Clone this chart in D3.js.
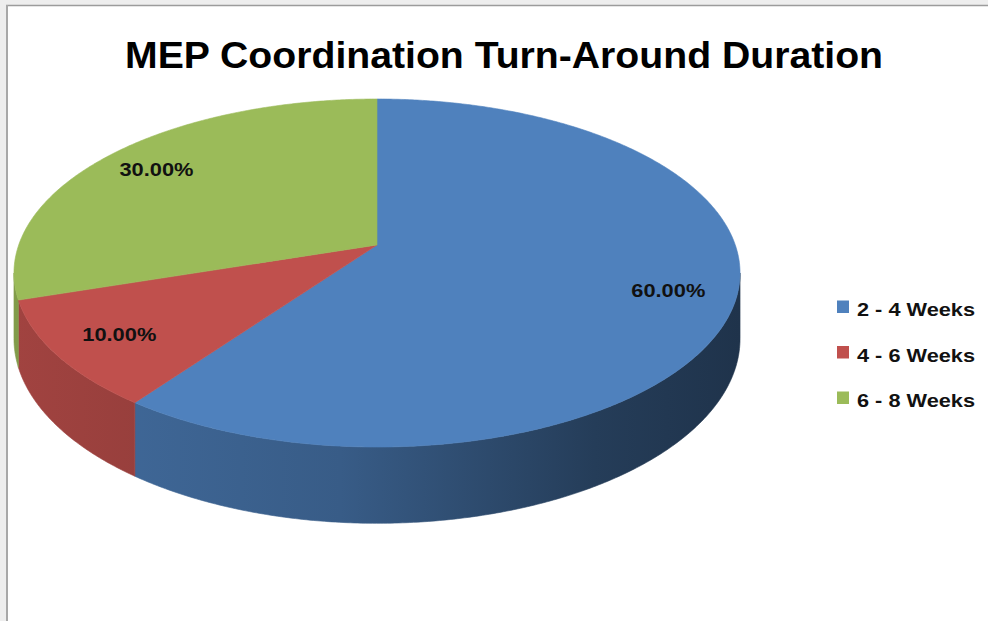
<!DOCTYPE html>
<html>
<head>
<meta charset="utf-8">
<script src="https://cdn.jsdelivr.net/npm/d3@7"></script>
<style>
  html, body { margin: 0; padding: 0; background: #eeeeee; }
  svg { display: block; }
</style>
</head>
<body>
<svg id="chart" width="988" height="621"></svg>
<script>
// Chart data
const title = "MEP Coordination Turn-Around Duration";
const categories = ["2 - 4 Weeks", "4 - 6 Weeks", "6 - 8 Weeks"];
const shares = [60, 10, 30];
const valueLabels = ["60.00%", "10.00%", "30.00%"];
const palette = ["#4f81bd", "#c0504d", "#9bbb59"];

const W = 988, H = 621;
const svg = d3.select("#chart");

// Page frame
svg.append("rect").attr("x", 0).attr("y", 0).attr("width", W).attr("height", H).attr("fill", "#eeeeee");
svg.append("rect").attr("x", 7).attr("y", 6).attr("width", W - 7).attr("height", H - 6).attr("fill", "#ffffff");
svg.append("line").attr("x1", 6).attr("x2", W).attr("y1", 5.5).attr("y2", 5.5).attr("stroke", "#9c9c9c").attr("stroke-width", 1.5);
svg.append("line").attr("x1", 7).attr("x2", 7).attr("y1", 5).attr("y2", H).attr("stroke", "#a8a8a8").attr("stroke-width", 2);

// Title
svg.append("text")
  .attr("x", 504).attr("y", 68)
  .attr("text-anchor", "middle")
  .attr("font-family", "'Liberation Sans Narrow', 'Liberation Sans', Arial, sans-serif")
  .attr("font-weight", "bold")
  .attr("font-size", 37)
  .attr("textLength", 758)
  .attr("lengthAdjust", "spacingAndGlyphs")
  .attr("fill", "#000")
  .text(title);

// Perspective projection of a tilted disc
const cx = 377, cy = 245;       // projected pie centre
const A = 358.3, B = 169.5;     // horizontal / depth radii before perspective
const k = 0.161;                // perspective strength
const depth = 64;               // disc thickness
function proj(theta, r, drop) {
  const x = r * Math.sin(theta), y = -r * Math.cos(theta);
  const w = 1 - k * y;
  return [cx + A * x / w, cy + B * y / w + (drop ? depth / w : 0)];
}

const pie = d3.pie().sort(null).value(d => d)(shares);
const color = d3.scaleOrdinal().domain(categories).range(palette);

const defs = svg.append("defs");
categories.forEach((c, i) => {
  const base = d3.color(color(c));
  const g = defs.append("linearGradient")
    .attr("id", "wall" + i)
    .attr("gradientUnits", "userSpaceOnUse")
    .attr("x1", 14).attr("x2", 740).attr("y1", 0).attr("y2", 0);
  [[0, 0.5], [0.45, 0.95], [0.8, 2.1], [1, 2.6]].forEach(([t, dk]) => {
    g.append("stop").attr("offset", t).attr("stop-color", base.darker(dk).formatHex());
  });
});

const step = Math.PI / 360;
function arcPts(a0, a1, drop) {
  const pts = [];
  const n = Math.max(2, Math.ceil((a1 - a0) / step));
  for (let j = 0; j <= n; j++) pts.push(proj(a0 + (a1 - a0) * j / n, 1, drop));
  return pts;
}

// Visible front wall range (silhouette where depth coordinate equals k)
const vis0 = Math.acos(-k), vis1 = 2 * Math.PI - Math.acos(-k);

const walls = svg.append("g");
pie.forEach((p, i) => {
  const a0 = Math.max(p.startAngle, vis0), a1 = Math.min(p.endAngle, vis1);
  if (a1 <= a0) return;
  const top = arcPts(a0, a1, false);
  const bot = arcPts(a0, a1, true).reverse();
  walls.append("path")
    .attr("d", d3.line()(top.concat(bot)) + "Z")
    .attr("fill", `url(#wall${i})`)
    .attr("stroke", `url(#wall${i})`)
    .attr("stroke-width", 0.6);
});

const tops = svg.append("g");
pie.forEach((p, i) => {
  const pts = [proj(0, 0, false)].concat(arcPts(p.startAngle, p.endAngle, false));
  tops.append("path")
    .attr("d", d3.line()(pts) + "Z")
    .attr("fill", color(categories[i]))
    .attr("stroke", color(categories[i]))
    .attr("stroke-width", 0.6);
});

// Value labels
pie.forEach((p, i) => {
  const mid = (p.startAngle + p.endAngle) / 2;
  const [x, y] = proj(mid, 0.82, false);
  svg.append("text")
    .attr("x", x).attr("y", y + 7)
    .attr("text-anchor", "middle")
    .attr("font-family", "'Liberation Sans', Arial, sans-serif")
    .attr("font-weight", "bold")
    .attr("font-size", 18)
    .attr("textLength", 74)
    .attr("lengthAdjust", "spacingAndGlyphs")
    .attr("fill", "#111")
    .text(valueLabels[i]);
});

// Legend
const legendY = d3.scalePoint().domain(categories).range([307, 398]);
const legend = svg.append("g");
categories.forEach(c => {
  const y = legendY(c);
  legend.append("rect")
    .attr("x", 837).attr("y", y - 6.5).attr("width", 12).attr("height", 12.5)
    .attr("fill", color(c));
  legend.append("text")
    .attr("x", 857).attr("y", y + 9)
    .attr("font-family", "'Liberation Sans', Arial, sans-serif")
    .attr("font-weight", "bold")
    .attr("font-size", 18.5)
    .attr("textLength", 118)
    .attr("lengthAdjust", "spacingAndGlyphs")
    .attr("fill", "#111")
    .text(c);
});
</script>
</body>
</html>
